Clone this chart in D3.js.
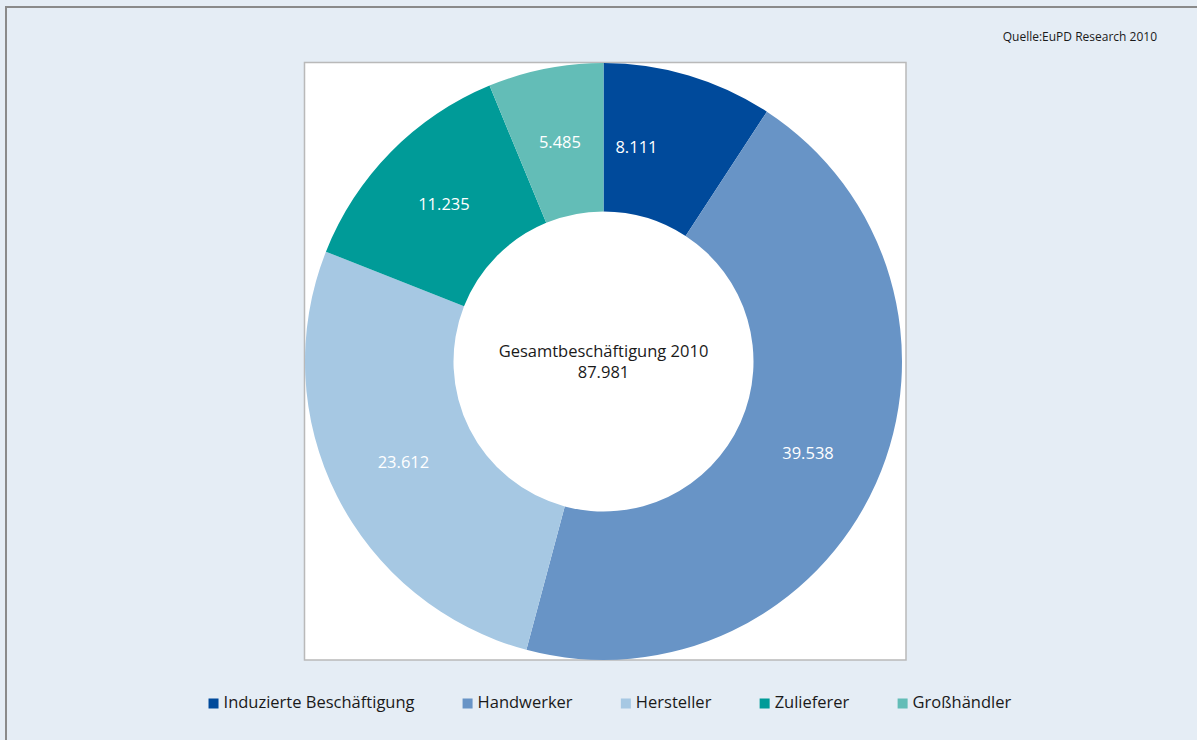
<!DOCTYPE html>
<html>
<head>
<meta charset="utf-8">
<script src="https://cdn.jsdelivr.net/npm/d3@7"></script>
<style>
  html, body { margin: 0; padding: 0; background: #e5edf5; }
  svg { display: block; }
  text { font-family: "Open Sans", "DejaVu Sans", sans-serif; }
</style>
</head>
<body>
<svg id="chart" width="1197" height="740"></svg>
<script>
// Beschäftigte in der Photovoltaik-Branche 2010
const categories = ["Induzierte Beschäftigung", "Handwerker", "Hersteller", "Zulieferer", "Großhändler"];
const values = [8111, 39538, 23612, 11235, 5485];
const valueLabels = ["8.111", "39.538", "23.612", "11.235", "5.485"];
const colors = ["#004a9b", "#6894c6", "#a6c8e3", "#009b98", "#63bdb7"];
const centerTitle = "Gesamtbeschäftigung 2010";
const centerValue = "87.981";
const source = "Quelle:EuPD Research 2010";

const W = 1197, H = 740;
const svg = d3.select("#chart");

// Outer frame lines (top and left)
svg.append("rect").attr("x", 0).attr("y", 0).attr("width", W).attr("height", H).attr("fill", "#e5edf5");
svg.append("line").attr("x1", 5).attr("x2", W).attr("y1", 7).attr("y2", 7)
  .attr("stroke", "#8a8a8a").attr("stroke-width", 2);
svg.append("line").attr("x1", 6).attr("x2", 6).attr("y1", 7).attr("y2", H)
  .attr("stroke", "#8a8a8a").attr("stroke-width", 2);

// Plot area
const plot = { x: 304.5, y: 62.5, w: 601.5, h: 597.5 };
svg.append("rect").attr("x", plot.x).attr("y", plot.y).attr("width", plot.w).attr("height", plot.h)
  .attr("fill", "#ffffff").attr("stroke", "#b9b9b9").attr("stroke-width", 1.5);

const cx = 603.5, cy = 361.5;
const outerR = 298.5, innerR = 150;

const pie = d3.pie().sort(null).value(d => d.value);
const arcs = pie(categories.map((c, i) => ({ cat: c, value: values[i], label: valueLabels[i], color: colors[i] })));
const arc = d3.arc().innerRadius(innerR).outerRadius(outerR);
const labelArc = d3.arc().innerRadius(224).outerRadius(224);

const g = svg.append("g").attr("transform", `translate(${cx},${cy})`);
g.selectAll("path.slice").data(arcs).enter().append("path")
  .attr("class", "slice")
  .attr("d", arc)
  .attr("fill", d => d.data.color);

// Narrow slices near the top get their label pulled towards the middle
const labelNudge = { "Induzierte Beschäftigung": -31 };
g.selectAll("text.val").data(arcs).enter().append("text")
  .attr("class", "val")
  .attr("x", d => labelArc.centroid(d)[0] + (labelNudge[d.data.cat] || 0))
  .attr("y", d => labelArc.centroid(d)[1])
  .attr("dy", "0.35em")
  .attr("text-anchor", "middle")
  .attr("fill", "#ffffff")
  .attr("font-size", 16.5)
  .text(d => d.data.label);

// Centre caption
g.append("text").attr("text-anchor", "middle").attr("y", -10).attr("dy", "0.35em")
  .attr("font-size", 16.5).attr("fill", "#1a1a1a").text(centerTitle);
g.append("text").attr("text-anchor", "middle").attr("y", 11).attr("dy", "0.35em")
  .attr("font-size", 16.5).attr("fill", "#1a1a1a").text(centerValue);

// Source note
svg.append("text").attr("x", 1157).attr("y", 41).attr("text-anchor", "end")
  .attr("font-size", 12).attr("fill", "#1a1a1a").text(source);

// Legend
const legend = svg.append("g");
const items = legend.selectAll("g").data(categories).enter().append("g");
items.append("rect").attr("width", 10).attr("height", 10).attr("y", -10.5)
  .attr("fill", (d, i) => colors[i]);
items.append("text").attr("x", 15).attr("y", 0).attr("dy", "-0.05em")
  .attr("font-size", 16.5).attr("fill", "#1a1a1a").text(d => d);

const gap = 48;
let xPos = 0;
items.each(function () {
  const w = this.getBBox().width;
  d3.select(this).attr("data-x", xPos);
  xPos += w + gap;
});
const total = xPos - gap;
const startX = 610 - total / 2;
items.attr("transform", function () {
  return `translate(${startX + (+this.getAttribute("data-x"))},709)`;
});
</script>
</body>
</html>
